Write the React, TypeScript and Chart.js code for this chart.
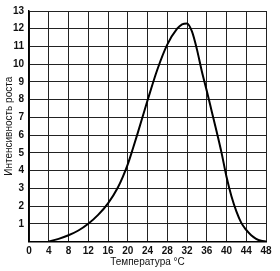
import React, { useEffect, useRef } from "react";
import { Chart, registerables } from "chart.js";

Chart.register(...registerables);

const temperature = [4, 6, 8, 10, 12, 14, 16, 18, 19, 20, 21, 22, 24, 26, 28, 30, 31, 32, 33, 34, 35, 36, 37, 38, 39, 40, 41, 42, 43, 44, 45, 46, 47, 48];
const growth = [0, 0.15, 0.35, 0.62, 1.0, 1.5, 2.15, 3.05, 3.65, 4.35, 5.2, 6.1, 7.95, 9.7, 11.1, 12.0, 12.25, 12.3, 11.85, 10.85, 9.6, 8.5, 7.35, 6.2, 5.0, 3.65, 2.55, 1.7, 1.05, 0.65, 0.35, 0.15, 0.04, 0];
const xTicks = [0, 4, 8, 12, 16, 20, 24, 28, 32, 36, 40, 44, 48];
const yTicks = [0, 1, 2, 3, 4, 5, 6, 7, 8, 9, 10, 11, 12, 13];
const xTitle = "Температура °C";
const yTitle = "Интенсивность роста";

export default function App() {
  const ref = useRef<HTMLCanvasElement | null>(null);
  useEffect(() => {
    if (!ref.current) return;
    const points = temperature.map((t, i) => ({ x: t, y: growth[i] }));
    const chart = new Chart(ref.current, {
      type: "line",
      data: {
        datasets: [
          {
            data: points,
            borderColor: "#000",
            borderWidth: 2,
            pointRadius: 0,
            cubicInterpolationMode: "monotone",
            fill: false,
          },
        ],
      },
      options: {
        animation: false,
        responsive: true,
        maintainAspectRatio: false,
        layout: { padding: { top: 7, right: 14, left: 0, bottom: 0 } },
        plugins: { legend: { display: false }, tooltip: { enabled: false } },
        scales: {
          x: {
            type: "linear",
            min: xTicks[0],
            max: xTicks[xTicks.length - 1],
            afterBuildTicks: (s: any) => {
              s.ticks = xTicks.map((v) => ({ value: v }));
            },
            afterFit: (s: any) => {
              s.height = 29.5;
            },
            ticks: {
              color: "#111",
              padding: 4,
              maxRotation: 0,
              autoSkip: false,
              font: { family: "Liberation Sans", size: 10, weight: "bold" },
            },
            grid: { color: "#222", lineWidth: 1, drawTicks: false },
            border: { color: "#000", width: 1.5 },
            title: {
              display: true,
              text: xTitle,
              color: "#111",
              font: { family: "Liberation Sans", size: 10 },
              padding: { top: 0, bottom: 3 },
            },
          },
          y: {
            type: "linear",
            min: yTicks[0],
            max: yTicks[yTicks.length - 1],
            afterBuildTicks: (s: any) => {
              s.ticks = yTicks.map((v) => ({ value: v }));
            },
            afterFit: (s: any) => {
              s.width = 29;
            },
            ticks: {
              color: "#111",
              padding: 5,
              autoSkip: false,
              font: { family: "Liberation Sans", size: 10, weight: "bold" },
              callback: (v: any) => (v === 0 ? "" : String(v)),
            },
            grid: { color: "#222", lineWidth: 1, drawTicks: false },
            border: { color: "#000", width: 1.5 },
            title: {
              display: true,
              text: yTitle,
              color: "#111",
              font: { family: "Liberation Sans", size: 10 },
              padding: { top: 3, bottom: 0 },
            },
          },
        },
      },
    });
    return () => chart.destroy();
  }, []);
  return (
    <div style={{ position: "absolute", left: 0, top: 0, width: 280, height: 271, background: "#fff" }}>
      <canvas ref={ref} />
    </div>
  );
}
